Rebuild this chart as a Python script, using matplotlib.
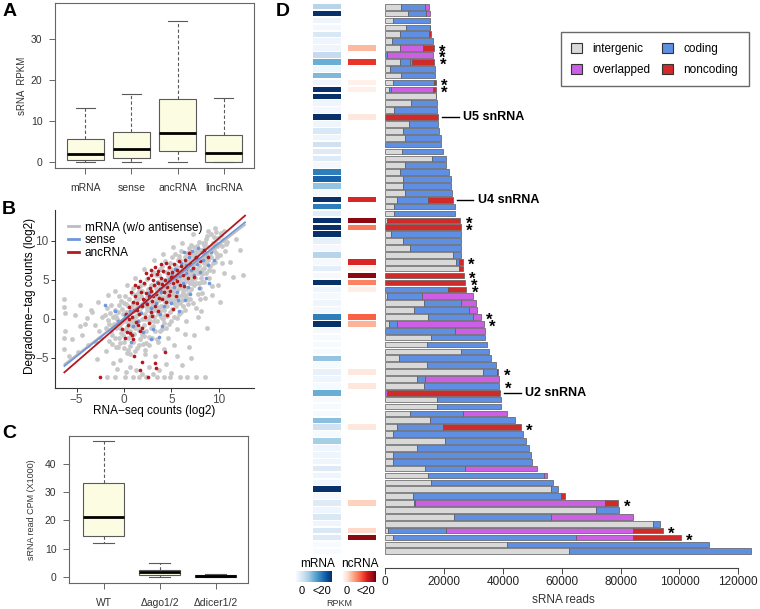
import numpy as np
import matplotlib
matplotlib.use('Agg')
import matplotlib.pyplot as plt
from matplotlib.patches import Patch
from matplotlib.lines import Line2D
from matplotlib import colors as mcolors
from matplotlib.cm import ScalarMappable

plt.rcParams['font.family'] = ['Liberation Sans', 'DejaVu Sans']

# ---------------- data ----------------
# Panel A
a_cats = ['mRNA', 'sense', 'ancRNA', 'lincRNA']
a_low = [0.0, 0.0, 0.0, 0.0]
a_q1 = [0.5, 1.05, 2.75, 0.0]
a_med = [2.0, 3.15, 7.1, 2.35]
a_q3 = [5.6, 7.35, 15.45, 6.55]
a_high = [13.1, 16.65, 34.3, 15.7]

# Panel C
c_cats = ['WT', '\u0394ago1/2', '\u0394dicer1/2']
c_low = [12.0, 0.0, 0.0]
c_q1 = [14.7, 0.8, 0.25]
c_med = [21.1, 1.8, 0.5]
c_q3 = [33.3, 2.6, 0.8]
c_high = [48.0, 5.2, 1.05]

# Panel B: scatter points (x = RNA-seq log2, y = degradome log2)
b_gray = [
    (-6.3, 2.6), (-6.2, -1.5), (-6.3, -3.9), (-6.2, 0.8), (-5.8, -4.8), (-5.2, 0.5), (-4.9, -4.2),
    (-4.6, 1.8), (-4.4, -2.0), (-4.1, -0.6), (-3.9, 0.1), (-3.8, -3.3), (-3.5, 1.2), (-3.4, 0.9),
    (-3.1, -0.8), (-3.0, -2.9), (-2.7, 2.2), (-2.6, -1.6), (-2.4, -2.5), (-2.3, 0.3), (-2.0, 0.5),
    (-1.9, -4.1), (-1.7, 3.1), (-1.6, -0.7), (-1.4, 1.8), (-1.2, -5.6), (-0.9, 3.6), (-0.7, -6.4),
    (-0.4, -5.2), (0.2, -6.8), (0.6, -6.1), (1.3, -6.5), (1.9, -7.0), (2.6, -6.2), (3.1, -7.1),
    (3.7, -6.6), (4.4, -5.8), (5.0, -6.9), (5.6, -4.7), (6.1, -5.9), (6.9, -3.6), (7.4, -2.1),
    (8.1, 1.0), (8.6, 2.7), (9.3, 3.1), (9.9, 4.4), (10.6, 5.9), (11.2, 7.3), (11.5, 5.4),
    (12.2, 8.9), (8.2, 4.8), (7.8, 0.2), (6.4, -1.9), (5.3, -3.4), (4.2, -3.9), (3.3, -4.8),
    (2.2, -4.5), (1.4, -3.7), (0.4, -4.0), (-0.6, -3.6), (9.6, 11.7), (8.9, 11.3), (7.3, 10.9),
    (6.1, 9.8), (5.2, 9.2), (4.1, 8.3), (3.2, 7.6), (2.1, 6.4), (1.2, 5.3), (0.3, 4.4), (-0.5, 3.0),
    (10.8, 9.6), (11.8, 10.3), (10.2, 11.0), (-6.3, -2.4), (-6.3, 1.5), (-5.5, -2.6), (-4.7, -0.9),
    (-2.9, -5.1), (-1.3, -3.2), (7.1, -5.0), (8.8, -1.2), (10.1, 2.2), (12.6, 5.6),
    (-1.8, -7.4), (-0.9, -7.4), (0.1, -7.4), (0.9, -7.4), (1.6, -7.4), (2.3, -7.4), (3.5, -7.4),
    (4.2, -7.4), (4.9, -7.4), (5.9, -7.4), (6.7, -7.4), (7.6, -7.4), (8.6, -7.4),
    (-1.9, -1.2), (-1.7, -0.1), (-1.5, 0.8), (-1.3, -2.0), (-1.8, 1.4), (-1.1, -0.6), (-1.2, 0.3),
    (-1.6, -2.8), (-1.0, 1.2), (-1.4, -1.5),
    (-0.9, -2.4), (-0.8, -1.1), (-0.7, 0.0), (-0.6, 0.9), (-0.5, 1.8), (-0.4, -3.1), (-0.3, -1.8),
    (-0.2, -0.4), (-0.1, 0.6), (-0.9, 0.4), (-0.6, -0.5), (-0.3, 2.3), (-0.8, -3.6), (-0.2, 1.3),
    (-0.5, -2.4),
    (0.0, -2.9), (0.1, -1.4), (0.2, -0.3), (0.3, 0.7), (0.4, 1.6), (0.5, 2.6), (0.6, -3.5),
    (0.7, -2.2), (0.8, -0.9), (0.9, 0.2), (0.1, 3.0), (0.3, -4.3), (0.5, -0.6), (0.7, 1.2),
    (0.9, 2.1), (0.2, 0.9), (0.6, -1.6), (0.8, 3.3), (0.4, -2.5), (0.95, -0.3),
    (1.0, -3.0), (1.1, -1.9), (1.2, -0.7), (1.3, 0.4), (1.4, 1.5), (1.5, 2.6), (1.6, 3.6),
    (1.7, -2.6), (1.8, -1.2), (1.9, 0.0), (1.1, 1.0), (1.3, 2.0), (1.5, -0.2), (1.7, 0.9),
    (1.9, 1.9), (1.2, -4.1), (1.6, -3.4), (1.8, 2.9), (1.4, 3.2), (1.95, -2.0), (1.05, 0.1),
    (1.65, 4.2),
    (2.0, -3.2), (2.1, -0.8), (2.2, 0.6), (2.3, 1.7), (2.4, 2.8), (2.5, 3.9), (2.6, -2.3),
    (2.7, -0.3), (2.8, 1.0), (2.9, 2.2), (2.1, 4.5), (2.3, -1.6), (2.5, 0.0), (2.7, 3.1),
    (2.9, 4.3), (2.2, -4.0), (2.4, 1.2), (2.6, 2.3), (2.8, -1.2), (2.95, 0.5), (2.05, 1.9),
    (2.45, 5.1), (2.65, -3.3), (2.85, 3.6),
    (3.0, -2.4), (3.1, -0.9), (3.2, 0.3), (3.3, 1.4), (3.4, 2.5), (3.5, 3.6), (3.6, 4.7),
    (3.7, 5.6), (3.8, -1.6), (3.9, 0.2), (3.1, 2.0), (3.3, 3.1), (3.5, -0.2), (3.7, 1.5),
    (3.9, 2.7), (3.2, 4.4), (3.4, 5.6), (3.6, -3.0), (3.8, 3.9), (3.95, 4.9), (3.05, 6.0),
    (3.25, -1.5), (3.45, 1.0), (3.65, 2.4), (3.85, 6.4),
    (4.0, -1.3), (4.1, 0.0), (4.2, 1.1), (4.3, 2.2), (4.4, 3.3), (4.5, 4.4), (4.6, 5.5),
    (4.7, 6.5), (4.8, -0.6), (4.9, 0.9), (4.1, 2.8), (4.3, 3.9), (4.5, 1.6), (4.7, 2.9),
    (4.9, 4.0), (4.2, 5.0), (4.4, 6.0), (4.6, -2.4), (4.8, 5.2), (4.95, 6.4), (4.05, 6.8),
    (4.25, -0.5), (4.55, 0.4), (4.75, 3.6), (4.85, 7.2), (4.35, 7.4),
    (5.0, -0.2), (5.1, 1.3), (5.2, 2.4), (5.3, 3.5), (5.4, 4.6), (5.5, 5.6), (5.6, 6.6),
    (5.7, 7.5), (5.8, 0.6), (5.9, 2.0), (5.1, 3.1), (5.3, 4.2), (5.5, 2.7), (5.7, 3.8),
    (5.9, 5.0), (5.2, 5.9), (5.4, 6.9), (5.6, -1.3), (5.8, 6.2), (5.95, 7.6), (5.05, 7.9),
    (5.25, 0.2), (5.45, 1.7), (5.65, 4.6), (5.85, 8.1), (5.35, 8.3),
    (6.0, 0.9), (6.1, 2.4), (6.2, 3.5), (6.3, 4.6), (6.4, 5.7), (6.5, 6.7), (6.6, 7.6),
    (6.7, 8.4), (6.8, 1.9), (6.9, 3.3), (6.1, 4.0), (6.3, 5.3), (6.5, 3.8), (6.7, 4.9),
    (6.9, 6.1), (6.2, 6.9), (6.4, 7.9), (6.6, -0.2), (6.8, 7.3), (6.95, 8.6), (6.05, 8.7),
    (6.25, 1.6), (6.45, 2.8), (6.65, 5.6), (6.85, 9.1),
    (7.0, 2.5), (7.1, 3.9), (7.2, 5.0), (7.3, 6.0), (7.4, 7.0), (7.5, 7.9), (7.6, 8.7),
    (7.7, 9.4), (7.8, 3.2), (7.9, 4.6), (7.1, 5.6), (7.3, 6.7), (7.5, 5.2), (7.7, 6.3),
    (7.9, 7.5), (7.2, 8.2), (7.4, 9.2), (7.6, 1.4), (7.8, 8.5), (7.95, 9.9), (7.05, 9.5),
    (7.35, 4.3), (7.65, 7.2), (7.85, 5.9),
    (8.0, 4.0), (8.1, 5.3), (8.2, 6.3), (8.3, 7.3), (8.4, 8.2), (8.5, 9.0), (8.6, 9.8),
    (8.7, 5.9), (8.8, 7.0), (8.9, 8.1), (8.1, 8.9), (8.3, 9.8), (8.5, 6.5), (8.7, 10.3),
    (8.9, 9.2), (8.2, 3.3), (8.4, 4.7), (8.6, 7.7), (8.8, 10.6), (8.95, 6.3),
    (9.0, 5.2), (9.1, 6.8), (9.2, 7.9), (9.3, 8.8), (9.4, 9.7), (9.5, 10.5), (9.6, 7.3),
    (9.7, 8.5), (9.8, 9.4), (9.9, 10.4), (9.15, 10.9), (9.45, 6.1), (9.75, 11.1), (9.25, 4.2),
    (9.55, 8.9),
    (10.1, 8.2), (10.3, 9.3), (10.5, 10.1), (10.7, 8.7), (10.2, 10.8), (10.4, 7.2), (10.9, 9.9),
    (10.6, 11.3),
    (-1.2, -1.0), (-0.8, 0.2), (-0.4, -1.2), (-0.1, -2.1), (0.0, 0.0), (0.2, 1.9), (0.35, -1.0),
    (0.55, 0.9), (0.75, -0.3), (0.85, 1.6), (1.15, -1.2), (1.25, 2.6), (1.45, 0.6), (1.55, -1.4),
    (1.75, 1.5), (1.85, 3.6), (2.15, -2.2), (2.25, 0.0), (2.35, 2.3), (2.55, 1.5), (2.55, 3.3),
    (2.75, 0.4), (2.75, 2.6), (2.95, 1.6), (2.95, 3.0), (3.15, -0.3), (3.15, 1.2), (3.35, 2.0),
    (3.35, 4.0), (3.55, 0.6), (3.55, 2.9), (3.75, 1.0), (3.75, 3.3), (3.75, 4.4), (3.95, 1.7),
    (4.15, 3.7), (4.15, 1.5), (4.35, 0.5), (4.35, 2.7), (4.55, 3.5), (4.55, 5.0), (4.65, 2.3),
    (4.75, 4.5), (4.95, 2.4), (4.95, 5.6), (5.15, 3.8), (5.15, 5.1), (5.25, 2.0), (5.45, 3.6),
    (5.45, 6.2), (5.65, 2.2), (5.75, 5.3), (5.85, 3.0), (5.85, 4.4), (6.15, 3.1), (6.15, 6.3),
    (6.35, 4.0), (6.35, 7.1), (6.55, 5.1), (6.55, 3.1), (6.75, 6.3), (6.75, 2.6), (6.95, 4.6),
    (6.95, 7.6), (7.15, 4.6), (7.25, 7.6), (7.45, 6.4), (7.45, 8.4), (7.65, 4.6), (7.75, 8.0),
    (7.95, 6.8), (8.15, 7.6), (8.25, 5.8), (8.45, 7.2), (8.45, 9.5), (8.65, 8.5), (8.85, 7.6),
    (9.05, 8.1), (9.25, 9.4), (9.35, 7.2), (9.65, 9.9), (9.85, 8.0), (10.0, 9.6), (1.0, 4.0),
    (0.0, 2.1), (-0.4, -0.7), (3.45, -2.6), (2.35, -3.1), (4.45, -1.1), (5.55, 0.1), (6.45, 1.2),
    (7.25, 2.0), (8.05, 2.6), (0.65, -4.5), (-0.05, -3.7),
]
b_red = [
    (0.2, 0.6), (0.4, -0.8), (0.5, 1.5), (0.6, -1.8), (0.8, 0.3), (0.9, 2.2), (1.0, -2.6),
    (1.1, 1.1), (1.2, 3.0), (1.3, -0.4), (1.4, 2.0), (1.5, 4.1), (1.6, 0.7), (1.7, -1.5),
    (1.8, 3.4), (1.9, 1.6), (2.0, 2.6), (2.1, 4.6), (2.2, 0.2), (2.3, 3.3), (2.4, 1.9),
    (2.5, 5.2), (2.6, 2.9), (2.7, 4.0), (2.8, 0.9), (2.9, 3.6), (3.0, 2.3), (3.1, 5.0),
    (3.2, 4.3), (3.3, 1.6), (3.4, 3.2), (3.5, 5.8), (3.6, 4.6), (3.7, 2.7), (3.8, 3.9),
    (3.9, 5.3), (4.0, 4.5), (4.1, 6.2), (4.2, 3.4), (4.3, 5.0), (4.4, 2.2), (4.5, 4.1),
    (4.6, 5.9), (4.7, 4.8), (4.8, 6.6), (4.9, 3.6), (5.0, 5.4), (5.1, 6.0), (5.2, 4.6),
    (5.3, 7.0), (5.4, 5.3), (5.5, 3.0), (5.6, 6.3), (5.7, 5.7), (5.8, 7.4), (5.9, 4.3),
    (6.0, 6.8), (6.2, 5.6), (6.4, 7.6), (6.6, 6.4), (6.8, 5.2), (7.0, 7.1), (7.3, 6.5),
    (7.6, 8.0), (8.0, 7.4), (8.4, 8.8), (8.9, 7.9), (2.3, 5.9), (2.9, 6.3), (3.3, 6.6),
    (3.9, 7.0), (1.7, 4.9), (1.2, 4.4), (0.7, 3.5), (2.6, -0.5), (3.0, 0.4), (1.5, -0.8),
    (0.3, -1.7), (0.1, -2.4), (-0.2, -1.3), (1.1, -4.8), (1.9, -5.5), (3.3, -5.7), (4.3, -4.2),
    (3.4, -6.3), (1.7, -6.5), (-2.5, -7.4), (2.5, -7.4), (0.8, -2.1), (1.9, -1.2), (4.5, 0.5),
    (5.2, 1.3), (3.6, 1.0), (4.0, 2.6), (4.7, 3.1), (5.6, 4.9), (6.3, 4.2), (2.8, 5.6),
    (3.6, 6.2), (4.4, 7.2), (1.4, 1.1), (2.1, 2.4), (3.1, 3.0), (0.5, 0.0), (7.4, 5.4),
    (6.9, 8.5),
]
b_blue = [
    (-2.0, 1.8), (0.1, 0.5), (-0.6, -0.3), (0.6, 1.0), (1.5, -0.3), (2.3, 2.1), (2.9, 1.4),
    (3.4, 2.0), (3.8, 0.6), (4.2, 1.6), (4.6, 3.0), (5.0, 2.1), (5.3, 4.1), (5.6, 3.4),
    (5.9, 5.5), (6.2, 4.6), (6.5, 5.9), (6.8, 4.1), (7.1, 6.3), (7.4, 5.7), (7.7, 7.1),
    (8.0, 6.0), (8.3, 7.5), (8.6, 8.3), (8.9, 6.9), (9.2, 8.6), (9.5, 7.6), (7.5, 7.8),
    (8.2, 8.6), (6.9, 8.0), (6.0, 7.2), (5.4, 6.4), (4.8, 5.1), (4.4, 4.3), (3.9, 3.5),
    (3.1, -1.3), (2.0, -1.7), (1.0, -0.9), (4.0, -0.9), (5.8, 1.0), (6.4, 2.4), (7.0, 3.2),
    (7.9, 4.0), (8.7, 5.3), (9.0, 4.6), (9.6, 9.3), (7.2, 8.7), (6.6, 6.9), (5.1, 5.6),
    (4.1, 6.1), (3.5, 4.7), (2.6, 3.3), (6.3, 8.6), (7.8, 9.1), (0.7, -3.0), (2.8, -2.6),
    (-1.0, 1.0), (3.7, -2.3), (1.8, 0.8), (5.7, 2.4),
]
b_fit_names = ['mRNA (w/o antisense)', 'sense', 'ancRNA']
b_fit_slope = [0.936, 0.965, 1.053]
b_fit_icpt = [0.10, 0.05, -0.21]
b_fit_xrange = [-6.3, 12.78]

# Panel D: sRNA reads per locus segment (stacked), 80 loci top->bottom
d_intergenic = [5400, 7700, 2500, 7000, 5000, 2300, 5000, 0, 5000, 1600,
                5400, 2700, 1400, 17100, 8800, 2900, 0, 8200, 6100, 6800,
                0, 5700, 15900, 6600, 5000, 5900, 5900, 6800, 4100, 2900,
                2900, 500, 0, 2000, 6100, 8400, 23100, 24000, 25200, 0,
                0, 0, 700, 13100, 9700, 14500, 1100, 0, 15600, 14100,
                25800, 4500, 14100, 33100, 10700, 13100, 0, 17500, 17500, 8400,
                15200, 3900, 2700, 20400, 10700, 2700, 2700, 13600, 14500, 15600,
                56400, 9500, 9700, 71600, 23300, 91100, 900, 2700, 41500, 62500]
d_coding = [8200, 6100, 12700, 8200, 10000, 13800, 0, 700, 3400, 15200,
            11600, 13800, 400, 200, 8700, 14800, 0, 9700, 12300, 12000,
            19000, 14000, 4700, 14000, 16800, 16300, 16300, 15900, 10400, 20700,
            20900, 0, 0, 23600, 19500, 17400, 2700, 1200, 0, 0,
            0, 21300, 11800, 12500, 18900, 15200, 2800, 23600, 18400, 20600,
            9600, 31300, 23700, 5000, 2900, 25700, 0, 21700, 21900, 18100,
            28800, 15600, 44000, 27400, 38000, 46700, 47300, 13400, 39500, 41500,
            2300, 50300, 500, 7700, 32900, 2300, 19700, 62100, 68400, 61700]
d_overlapped = [1400, 1400, 0, 0, 0, 0, 7900, 15600, 600, 0,
                0, 0, 14300, 0, 0, 0, 0, 0, 0, 0,
                0, 0, 0, 0, 0, 0, 0, 0, 0, 0,
                0, 0, 0, 0, 0, 0, 0, 0, 0, 0,
                0, 0, 17400, 5200, 2700, 2700, 29600, 10200, 0, 0,
                0, 0, 0, 0, 24900, 0, 700, 0, 0, 15000,
                0, 0, 0, 0, 0, 0, 0, 24400, 1100, 0,
                0, 0, 64600, 0, 28100, 0, 63500, 19300, 0, 0]
d_noncoding = [0, 0, 0, 100, 400, 0, 3600, 0, 7700, 0,
               0, 600, 1000, 0, 0, 0, 17900, 0, 0, 0,
               0, 0, 0, 0, 0, 0, 0, 0, 8400, 0,
               0, 24900, 25600, 0, 0, 0, 0, 1100, 1100, 26700,
               27200, 6100, 0, 0, 0, 0, 0, 0, 0, 0,
               0, 0, 0, 200, 0, 0, 38300, 0, 0, 0,
               0, 26500, 0, 0, 0, 0, 0, 0, 0, 0,
               0, 1400, 4300, 0, 0, 0, 10200, 16300, 0, 0]
d_mrna_rpkm = [6, 20, 1, 0.5, 3, 1, 1, 5, 10, 1,
               9, 1, 20, 20, 1, 0.5, 20, 1, 3, 1,
               4, 2.5, 2.5, 0.3, 14, 16, 8, 0.3, 20, 14,
               2, 20, 20, 20, 1.5, 0.3, 6, 0.3, 2, 0.3,
               20, 1, 0.3, 1, 0.5, 14, 20, 0.3, 0.2, 0.2,
               0.2, 8, 0.2, 1.5, 1, 0.2, 10, 0.2, 0.2, 0.2,
               8.5, 4, 0.2, 7, 1, 1, 1, 2.5, 1, 0.8,
               20, 0.3, 2.5, 1, 3, 1, 3, 2.5, 0, 0]
nan = np.nan
d_ncrna_rpkm = [nan, nan, nan, nan, nan, nan, 5, nan, 13, nan,
                nan, 0.5, 0.5, nan, nan, nan, 1.5, nan, nan, nan,
                nan, nan, nan, nan, nan, nan, nan, nan, 14, nan,
                nan, 18.5, 9, nan, nan, nan, nan, 14, 0.2, 18.5,
                8.5, 0.8, nan, nan, nan, 10.5, 5.5, nan, nan, nan,
                nan, nan, nan, 1.5, nan, 1.5, nan, nan, nan, nan,
                nan, 1.5, nan, nan, nan, nan, nan, nan, nan, nan,
                nan, nan, 3.5, nan, nan, nan, 3, 18.5, nan, nan]
d_star_rows = [7, 8, 9, 12, 13, 32, 33, 38, 40, 41, 42, 46, 47, 54, 56, 62, 73, 77, 78]
d_labels = {17: 'U5 snRNA', 29: 'U4 snRNA', 57: 'U2 snRNA'}

# ---------------- figure ----------------
W, H = 760, 609
fig = plt.figure(figsize=(W / 100, H / 100), dpi=100)


def ax_px(x0, y0, x1, y1):
    return fig.add_axes([x0 / W, 1 - y1 / H, (x1 - x0) / W, (y1 - y0) / H])


def ftext(x, y, s, **kw):
    return fig.text(x / W, 1 - y / H, s, **kw)


BOXFILL = '#fcfce3'
EDGE = '#5a5a5a'


def rbox(ax, low, q1, med, q3, high, width, capw):
    stats = [dict(whislo=l, q1=a, med=m, q3=b, whishi=h, fliers=[])
             for l, a, m, b, h in zip(low, q1, med, q3, high)]
    ax.bxp(stats, positions=np.arange(1, len(stats) + 1), widths=width,
           capwidths=capw, patch_artist=True, showfliers=False,
           boxprops=dict(facecolor=BOXFILL, edgecolor=EDGE, linewidth=0.8),
           medianprops=dict(color='black', linewidth=2.0, solid_capstyle='butt'),
           whiskerprops=dict(color=EDGE, linewidth=0.8, linestyle=(0, (3, 2))),
           capprops=dict(color=EDGE, linewidth=0.8))
    for s in ax.spines.values():
        s.set_color('#666666')
        s.set_linewidth(0.8)
    ax.tick_params(direction='out', length=4, width=0.7, color='#666666',
                   labelsize=7.5, labelcolor='#333333', pad=5)


# Panel A
axA = ax_px(55, 3.3, 254, 168)
rbox(axA, a_low, a_q1, a_med, a_q3, a_high, 0.8, 0.4)
axA.set_xlim(0.34, 4.66)
axA.set_ylim(-1.4, 38.6)
axA.set_yticks([0, 10, 20, 30])
axA.set_xticks([1, 2, 3, 4])
axA.set_xticklabels(a_cats)
axA.tick_params(axis='x', pad=7)
ftext(22, 86, 'sRNA  RPKM', rotation=90, ha='center', va='center', fontsize=7, color='#333333')

# Panel B
axB = ax_px(55, 210, 254, 388)
gx, gy = zip(*b_gray)
rx, ry = zip(*b_red)
bx, by = zip(*b_blue)
axB.scatter(gx, gy, s=12, color='#c8c8c8', linewidths=0, zorder=1)
axB.scatter(bx, by, s=7, color='#6f97dc', linewidths=0, zorder=2)
axB.scatter(rx, ry, s=7, color='#b3191e', linewidths=0, zorder=3)
fit_cols = ['#bdbdbd', '#6f97dc', '#b3191e']
xr = np.array(b_fit_xrange)
for sl, ic, c in zip(b_fit_slope, b_fit_icpt, fit_cols):
    axB.plot(xr, ic + sl * xr, color=c, lw=1.3, zorder=4)
axB.set_xlim(-7.29, 13.73)
axB.set_ylim(-8.85, 13.97)
axB.set_xticks([-5, 0, 5, 10])
axB.set_yticks([-5, 0, 5, 10])
for s in ['top', 'right']:
    axB.spines[s].set_visible(False)
for s in ['left', 'bottom']:
    axB.spines[s].set_color('#333333')
    axB.spines[s].set_linewidth(0.8)
axB.tick_params(direction='out', length=3, width=0.7, color='#333333',
                labelsize=8.5, labelcolor='#4d4d4d', pad=1.5)
leg_h = [Line2D([0], [0], color=c, lw=2) for c in fit_cols]
axB.legend(leg_h, b_fit_names, loc='upper left', bbox_to_anchor=(0.03, 0.975),
           frameon=False, fontsize=8.5, handlelength=0.9, handletextpad=0.5,
           labelspacing=0.05, borderaxespad=0.2)
ftext(154.5, 411, 'RNA\u2212seq counts (log2)', ha='center', va='center', fontsize=8.5)
ftext(30, 296, 'Degradome\u2212tag counts (log2)', rotation=90, ha='center', va='center', fontsize=8.5)

# Panel C
axC = ax_px(69, 435.7, 248.3, 582.7)
rbox(axC, c_low, c_q1, c_med, c_q3, c_high, 0.735, 0.37)
axC.set_xlim(0.38, 3.58)
axC.set_ylim(-1.9, 49.8)
axC.set_yticks([0, 10, 20, 30, 40])
axC.set_xticks([1, 2, 3])
axC.set_xticklabels(c_cats)
axC.tick_params(axis='x', pad=7)
ftext(32, 510, 'sRNA read CPM (X1000)', rotation=90, ha='center', va='center', fontsize=6.5, color='#333333')

# Panel D bars
n = len(d_intergenic)
rows = np.arange(1, n + 1)
ylim_d = (80 + (568 - 551.3) / 6.893, 1 - 6.7 / 6.893)
axD = ax_px(372, 0, 755, 568)
seg_cols = ['#d9d9d9', '#5f8fe3', '#cc5fe6', '#d02a2a']
seg_names = ['intergenic', 'coding', 'overlapped', 'noncoding']
left = np.zeros(n)
for vals, c in zip([d_intergenic, d_coding, d_overlapped, d_noncoding], seg_cols):
    v = np.array(vals, dtype=float)
    m = v > 0
    axD.barh(rows[m], v[m], left=left[m], height=0.82, color=c,
             edgecolor='#5a5a5a', linewidth=0.5)
    left = left + v
totals = left
for r in d_star_rows:
    axD.text(totals[r - 1] + 3000, r + 0.55, '*', ha='center', va='center',
             fontsize=12, fontweight='bold')
for r, lab in d_labels.items():
    t = totals[r - 1]
    axD.plot([t + 1500, t + 7000], [r, r], color='black', lw=1)
    axD.text(t + 8600, r, lab, ha='left', va='center', fontsize=9, fontweight='bold')
axD.set_ylim(*ylim_d)
axD.set_xlim(-4521, 125677)
for s in ['top', 'right', 'left']:
    axD.spines[s].set_visible(False)
axD.spines['bottom'].set_bounds(0, 120000)
axD.spines['bottom'].set_color('#444444')
axD.spines['bottom'].set_linewidth(0.8)
axD.set_yticks([])
axD.set_xticks(np.arange(0, 120001, 20000))
axD.tick_params(axis='x', direction='out', length=4, width=0.7, color='#444444',
                labelsize=8.5, labelcolor='#222222', pad=2)
ftext(563, 600, 'sRNA reads', ha='center', va='center', fontsize=8.5, color='#333333')

# Panel D heatmaps
norm = mcolors.Normalize(0, 20)
axH = ax_px(312.7, 0, 376, 568)
mr = np.array(d_mrna_rpkm, dtype=float)
nr = np.array(d_ncrna_rpkm, dtype=float)
axH.barh(rows, 28, left=0, height=0.8, color=plt.cm.Blues(norm(mr)), linewidth=0)
okn = ~np.isnan(nr)
axH.barh(rows[okn], 27.7, left=35.6, height=0.8, color=plt.cm.Reds(norm(nr[okn])), linewidth=0)
axH.set_xlim(0, 63.3)
axH.set_ylim(*ylim_d)
axH.axis('off')

# colour keys
for (x0, x1), cmap, name, xc, x0l, x20 in [((296, 331.7), 'Blues', 'mRNA', 318, 301.7, 321.7),
                                           ((343.3, 376), 'Reds', 'ncRNA', 360, 346.7, 366)]:
    cax = ax_px(x0, 570.7, x1, 581.7)
    cb = fig.colorbar(ScalarMappable(norm=norm, cmap=cmap), cax=cax, orientation='horizontal')
    cb.outline.set_visible(False)
    cax.set_xticks([])
    ftext(xc, 564, name, ha='center', va='center', fontsize=8.5)
    ftext(x0l, 591.5, '0', ha='center', va='center', fontsize=8)
    ftext(x20, 591.5, '<20', ha='center', va='center', fontsize=8)
ftext(339.3, 603.3, 'RPKM', ha='center', va='center', fontsize=6.5, color='#333333')

# legend D
handles = [Patch(facecolor=c, edgecolor='#333333', linewidth=0.8) for c in seg_cols]
order = [0, 2, 1, 3]
fig.legend([handles[i] for i in order], [seg_names[i] for i in order], ncol=2,
           loc='upper left', bbox_to_anchor=(560.7 / W, 1 - 32.3 / H),
           frameon=True, fancybox=False, edgecolor='#444444', fontsize=8.5,
           handlelength=0.9, handleheight=0.9, columnspacing=1.0, labelspacing=0.75,
           borderpad=0.9, handletextpad=0.9, borderaxespad=0)

# panel letters
for lab, x, y in [('A', 10, 12), ('B', 9, 210), ('C', 9, 433), ('D', 283, 12)]:
    ftext(x, y, lab, ha='center', va='center', fontsize=14, fontweight='bold')

fig.savefig('out.png', dpi=100)
